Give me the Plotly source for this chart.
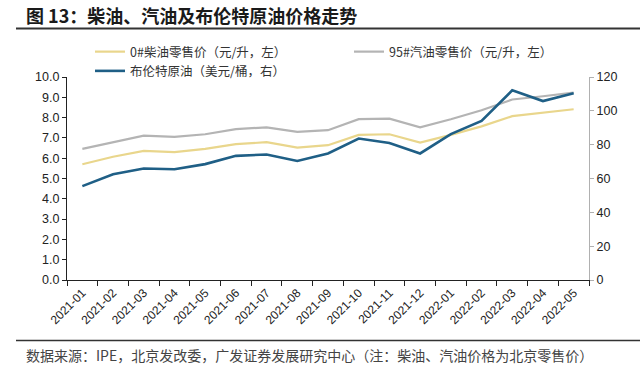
import plotly.graph_objects as go

months = ["2021-01","2021-02","2021-03","2021-04","2021-05","2021-06","2021-07","2021-08","2021-09",
          "2021-10","2021-11","2021-12","2022-01","2022-02","2022-03","2022-04","2022-05"]
diesel = [5.70,6.07,6.36,6.30,6.46,6.69,6.79,6.52,6.64,7.15,7.18,6.77,7.15,7.57,8.07,8.25,8.41]
gasoline95 = [6.46,6.80,7.11,7.05,7.18,7.43,7.52,7.30,7.38,7.92,7.95,7.52,7.92,8.36,8.89,9.05,9.23]
brent = [55.5,62.5,65.9,65.5,68.5,73.4,74.2,70.4,74.8,83.6,81.0,74.8,86.2,94.0,112.1,105.8,110.4]

left_ticks = [0,1,2,3,4,5,6,7,8,9,10]
right_ticks = [0,20,40,60,80,100,120]

FONT = "Liberation Sans, Arial, Noto Sans CJK SC, sans-serif"
CJK = "Noto Sans CJK SC, Liberation Sans, sans-serif"

W, H = 640, 374
L, R, T, B = 67, 51, 77, 94
PW, PH = W - L - R, H - T - B

def px_x(x):
    return (x - L) / PW

def px_y(y):
    return (H - B - y) / PH

fig = go.Figure()
fig.add_trace(go.Scatter(x=months, y=diesel, mode="lines", name="0#柴油零售价（元/升，左）",
                         line=dict(color="#E9D68C", width=2.2)))
fig.add_trace(go.Scatter(x=months, y=gasoline95, mode="lines", name="95#汽油零售价（元/升，左）",
                         line=dict(color="#B4B4B4", width=2.2)))
fig.add_trace(go.Scatter(x=months, y=brent, mode="lines", name="布伦特原油（美元/桶，右）",
                         line=dict(color="#1F5F86", width=2.6), yaxis="y2"))

fig.update_layout(
    width=W, height=H,
    margin=dict(l=L, r=R, t=T, b=B, autoexpand=False),
    paper_bgcolor="white", plot_bgcolor="white",
    font=dict(family=FONT, size=12, color="#222222"),
    showlegend=True,
    legend=dict(orientation="h", xref="container", yref="container",
                x=90 / W, xanchor="left", y=1 - 37 / H, yanchor="top",
                entrywidth=214, entrywidthmode="pixels",
                font=dict(family=CJK, size=12.5, color="#333333"),
                itemwidth=30, tracegroupgap=0, bgcolor="rgba(0,0,0,0)"),
    xaxis=dict(type="category", showline=True, linecolor="#222222", linewidth=1.2,
               ticks="outside", ticklen=5, tickcolor="#222222", tickson="boundaries",
               tickangle=-45, tickfont=dict(size=12, color="#222222"),
               showgrid=False, zeroline=False, range=[-0.5, len(months) - 0.5]),
    yaxis=dict(range=[0, 10], tickvals=left_ticks, tickformat=".1f",
               showline=True, linecolor="#222222", linewidth=1.2,
               ticks="outside", ticklen=4, tickcolor="#222222",
               showgrid=False, zeroline=False, tickfont=dict(size=12.5, color="#222222")),
    yaxis2=dict(range=[0, 120], tickvals=right_ticks, overlaying="y", side="right",
                showline=True, linecolor="#B0B0B0", linewidth=1.2,
                ticks="outside", ticklen=4, tickcolor="#B0B0B0",
                showgrid=False, zeroline=False, tickfont=dict(size=12.5, color="#222222")),
)

# title and rules
fig.add_annotation(xref="paper", yref="paper", x=px_x(24), y=px_y(15),
                   xanchor="left", yanchor="middle", showarrow=False,
                   text="<b>图 13：柴油、汽油及布伦特原油价格走势</b>",
                   font=dict(family=CJK, size=18, color="#1a1a1a"))
fig.add_shape(type="line", xref="paper", yref="paper",
              x0=px_x(16), x1=px_x(W), y0=px_y(28.5), y1=px_y(28.5),
              line=dict(color="#333333", width=2))
fig.add_shape(type="line", xref="paper", yref="paper",
              x0=px_x(16), x1=px_x(W), y0=px_y(340.5), y1=px_y(340.5),
              line=dict(color="#333333", width=1.5))
fig.add_annotation(xref="paper", yref="paper", x=px_x(24), y=px_y(355),
                   xanchor="left", yanchor="middle", showarrow=False,
                   text="数据来源：IPE，北京发改委，广发证券发展研究中心（注：柴油、汽油价格为北京零售价）",
                   font=dict(family=CJK, size=14, color="#444444"))

fig.write_html("out.html", config={"displayModeBar": False},
               post_script="document.body.style.margin='0';document.body.style.overflow='hidden';")
